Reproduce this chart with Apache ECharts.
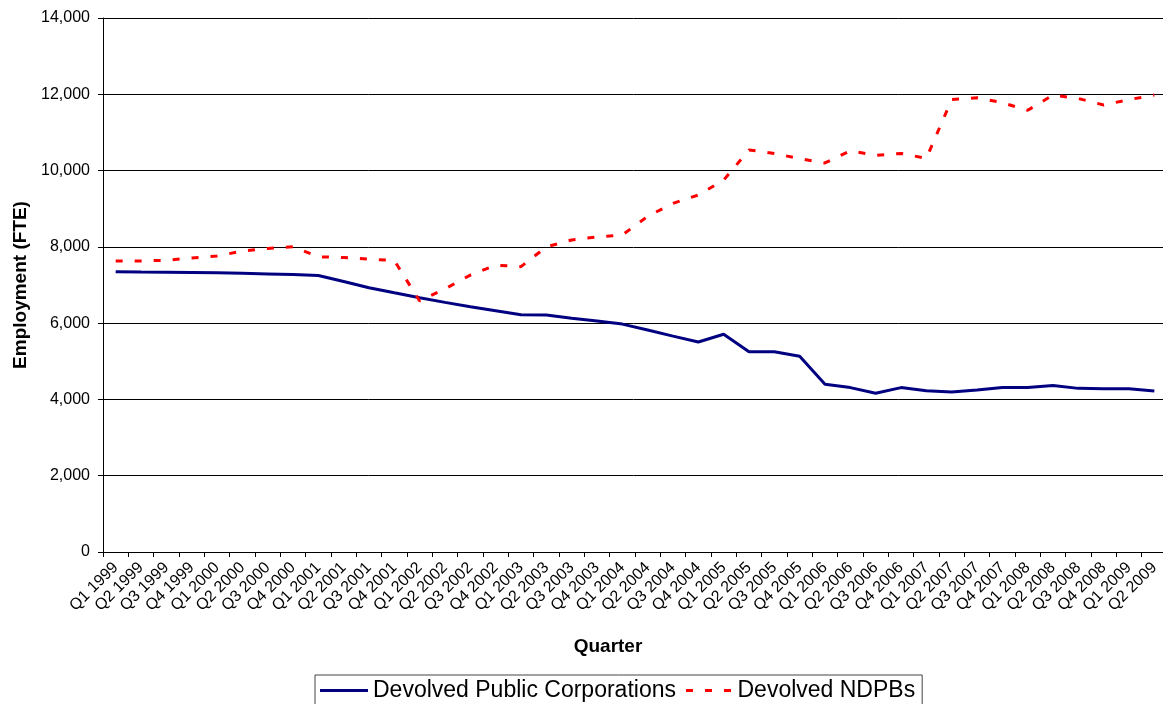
<!DOCTYPE html>
<html><head><meta charset="utf-8">
<script src="https://cdn.jsdelivr.net/npm/echarts@6/dist/echarts.min.js"></script>
<style>html,body{margin:0;padding:0;background:#fff}#c{width:1163px;height:704px}</style>
</head><body><div id="c"></div>
<script>
const quarters = ["Q1 1999","Q2 1999","Q3 1999","Q4 1999","Q1 2000","Q2 2000","Q3 2000","Q4 2000",
  "Q1 2001","Q2 2001","Q3 2001","Q4 2001","Q1 2002","Q2 2002","Q3 2002","Q4 2002",
  "Q1 2003","Q2 2003","Q3 2003","Q4 2003","Q1 2004","Q2 2004","Q3 2004","Q4 2004",
  "Q1 2005","Q2 2005","Q3 2005","Q4 2005","Q1 2006","Q2 2006","Q3 2006","Q4 2006",
  "Q1 2007","Q2 2007","Q3 2007","Q4 2007","Q1 2008","Q2 2008","Q3 2008","Q4 2008",
  "Q1 2009","Q2 2009"];
const publicCorporations = [7350,7340,7335,7330,7320,7305,7290,7275,7250,7090,6930,6795,6665,6545,6430,6325,
  6220,6215,6130,6055,5975,5820,5660,5505,5710,5250,5250,5130,4400,4310,4160,4310,
  4230,4195,4245,4315,4315,4365,4290,4280,4280,4220];
const ndpbs = [7630,7630,7650,7710,7760,7890,7960,8000,7740,7720,7680,7640,6580,6900,7260,7520,
  7480,8000,8180,8260,8310,8800,9140,9360,9750,10540,10450,10310,10200,10520,10400,10450,
  10320,11860,11910,11780,11580,11980,11890,11720,11860,11980];
const seriesNames = ["Devolved Public Corporations","Devolved NDPBs"];
const xTitle = "Quarter";
const yTitle = "Employment (FTE)";

const FONT = "'Liberation Sans', Arial, sans-serif";
const chart = echarts.init(document.getElementById('c'), null, {renderer:'canvas'});
chart.setOption({
  animation:false,
  backgroundColor:'#fff',
  textStyle:{fontFamily:FONT, color:'#000'},
  grid:{left:103, top:18, width:1064, height:534, containLabel:false, outerBoundsMode:'none'},
  legend:{
    left:315, top:675, orient:'horizontal',
    borderColor:'#444', borderWidth:1, padding:[4,7,4,5],
    itemWidth:48, itemHeight:3, itemGap:10,
    textStyle:{fontSize:23, color:'#000', fontFamily:FONT},
    data:[
      {name:seriesNames[0], icon:'rect', itemStyle:{color:'#000080'}},
      {name:seriesNames[1], icon:'path://M0,0H7V3H0Z M19,0H26V3H19Z M38,0H45V3H38Z', itemStyle:{color:'#FF0000'}}
    ]
  },
  xAxis:{
    type:'category', data:quarters, boundaryGap:true,
    axisLine:{lineStyle:{color:'#000', width:1}},
    axisTick:{show:true, length:5, lineStyle:{color:'#000'}},
    axisLabel:{rotate:45, interval:0, fontSize:16, color:'#000', fontFamily:FONT, margin:13},
    splitLine:{show:false},
    name:xTitle, nameLocation:'middle', nameGap:85,
    nameTextStyle:{fontWeight:'bold', fontSize:19, color:'#000', fontFamily:FONT, padding:[0,54,0,0]}
  },
  yAxis:{
    type:'value', min:0, max:14000, interval:2000,
    axisLine:{show:true, lineStyle:{color:'#000', width:1}},
    axisTick:{show:true, length:5, lineStyle:{color:'#000'}},
    axisLabel:{fontSize:16, color:'#000', fontFamily:FONT, margin:13,
      formatter:v=>v.toLocaleString('en-US')},
    splitLine:{show:true, lineStyle:{color:'#000', width:1}},
    name:yTitle, nameLocation:'middle', nameRotate:90, nameGap:73,
    nameTextStyle:{fontWeight:'bold', fontSize:19, color:'#000', fontFamily:FONT}
  },
  series:[
    {name:seriesNames[0], type:'line', data:publicCorporations, symbol:'none',
     itemStyle:{color:'#000080'}, lineStyle:{color:'#000080', width:3}},
    {name:seriesNames[1], type:'line', data:ndpbs, symbol:'none',
     itemStyle:{color:'#FF0000'}, lineStyle:{color:'#FF0000', width:3, type:[7,12]}}
  ]
});
</script></body></html>
